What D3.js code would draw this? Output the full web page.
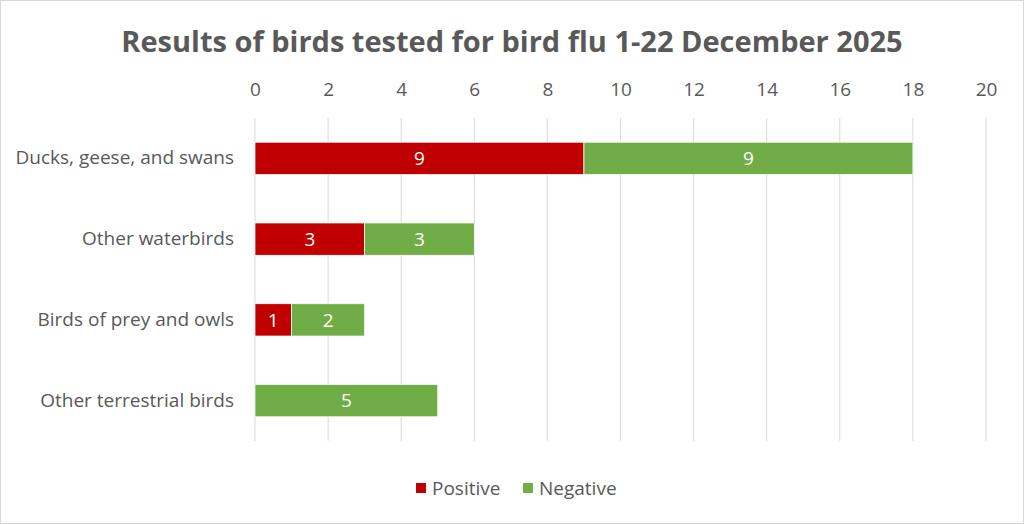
<!DOCTYPE html>
<html><head><meta charset="utf-8">
<script src="https://cdn.jsdelivr.net/npm/d3@7"></script>
<style>body{margin:0;background:#fff;} text{font-family:"Open Sans",sans-serif;}</style>
</head><body>
<svg id="c" width="1024" height="524"></svg>
<script>
const categories = ["Ducks, geese, and swans","Other waterbirds","Birds of prey and owls","Other terrestrial birds"];
const positive = [9,3,1,0];
const negative = [9,3,2,5];
const seriesNames = ["Positive","Negative"];
const colors = ["#C00000","#70AD47"];
const xTicks = [0,2,4,6,8,10,12,14,16,18,20];
const title = "Results of birds tested for bird flu 1-22 December 2025";

const FS = 19;
const svg = d3.select("#c");
svg.append("rect").attr("x",0.5).attr("y",0.5).attr("width",1023).attr("height",523)
  .attr("fill","#fff").attr("stroke","#d9d9d9");

svg.append("text").attr("x",512).attr("y",52).attr("text-anchor","middle")
  .attr("font-size",29).attr("font-weight",700).attr("fill","#595959").text(title);

const x = d3.scaleLinear().domain([0,20]).range([255,986]);
const y = d3.scaleBand().domain(categories).range([118,441]).paddingInner(0.6).paddingOuter(0.3);

const grid = svg.append("g");
grid.selectAll("line").data(xTicks).join("line")
  .attr("x1",d=>x(d)).attr("x2",d=>x(d)).attr("y1",118).attr("y2",441)
  .attr("stroke","#d9d9d9").attr("stroke-width",1);

const xAxis = svg.append("g").attr("transform","translate(0,96)")
  .call(d3.axisTop(x).tickValues(xTicks).tickSize(0).tickPadding(0));
xAxis.select(".domain").remove();
xAxis.selectAll("text").attr("font-size",FS).attr("fill","#595959").attr("font-family","Open Sans, sans-serif");

const yAxis = svg.append("g").attr("transform","translate(234,0)")
  .call(d3.axisLeft(y).tickSize(0).tickPadding(0));
yAxis.select(".domain").remove();
yAxis.selectAll("text").attr("font-size",FS).attr("fill","#595959").attr("font-family","Open Sans, sans-serif");

const rows = categories.map((c,i)=>({c, vals:[positive[i],negative[i]]}));
const segs = [];
rows.forEach(r=>{ let acc=0; r.vals.forEach((v,k)=>{ if(v>0) segs.push({c:r.c,k,x0:acc,x1:acc+v,v}); acc+=v; }); });

const bh = y.bandwidth();
svg.append("g").selectAll("rect").data(segs).join("rect")
  .attr("x",d=>x(d.x0)).attr("width",d=>x(d.x1)-x(d.x0))
  .attr("y",d=>y(d.c)).attr("height",bh)
  .attr("fill",d=>colors[d.k]).attr("stroke","#fff").attr("stroke-width",0.75);
svg.append("g").selectAll("text").data(segs).join("text")
  .attr("x",d=>(x(d.x0)+x(d.x1))/2).attr("y",d=>y(d.c)+bh/2).attr("dy","0.35em")
  .attr("text-anchor","middle").attr("font-size",FS).attr("fill","#fff").text(d=>d.v);

const leg = svg.append("g");
const legX = [416,523];
seriesNames.forEach((n,i)=>{
  leg.append("rect").attr("x",legX[i]).attr("y",483).attr("width",10).attr("height",10).attr("fill",colors[i]);
  leg.append("text").attr("x",legX[i]+16).attr("y",488).attr("dy","0.35em")
    .attr("font-size",FS).attr("fill","#595959").text(n);
});
</script></body></html>
